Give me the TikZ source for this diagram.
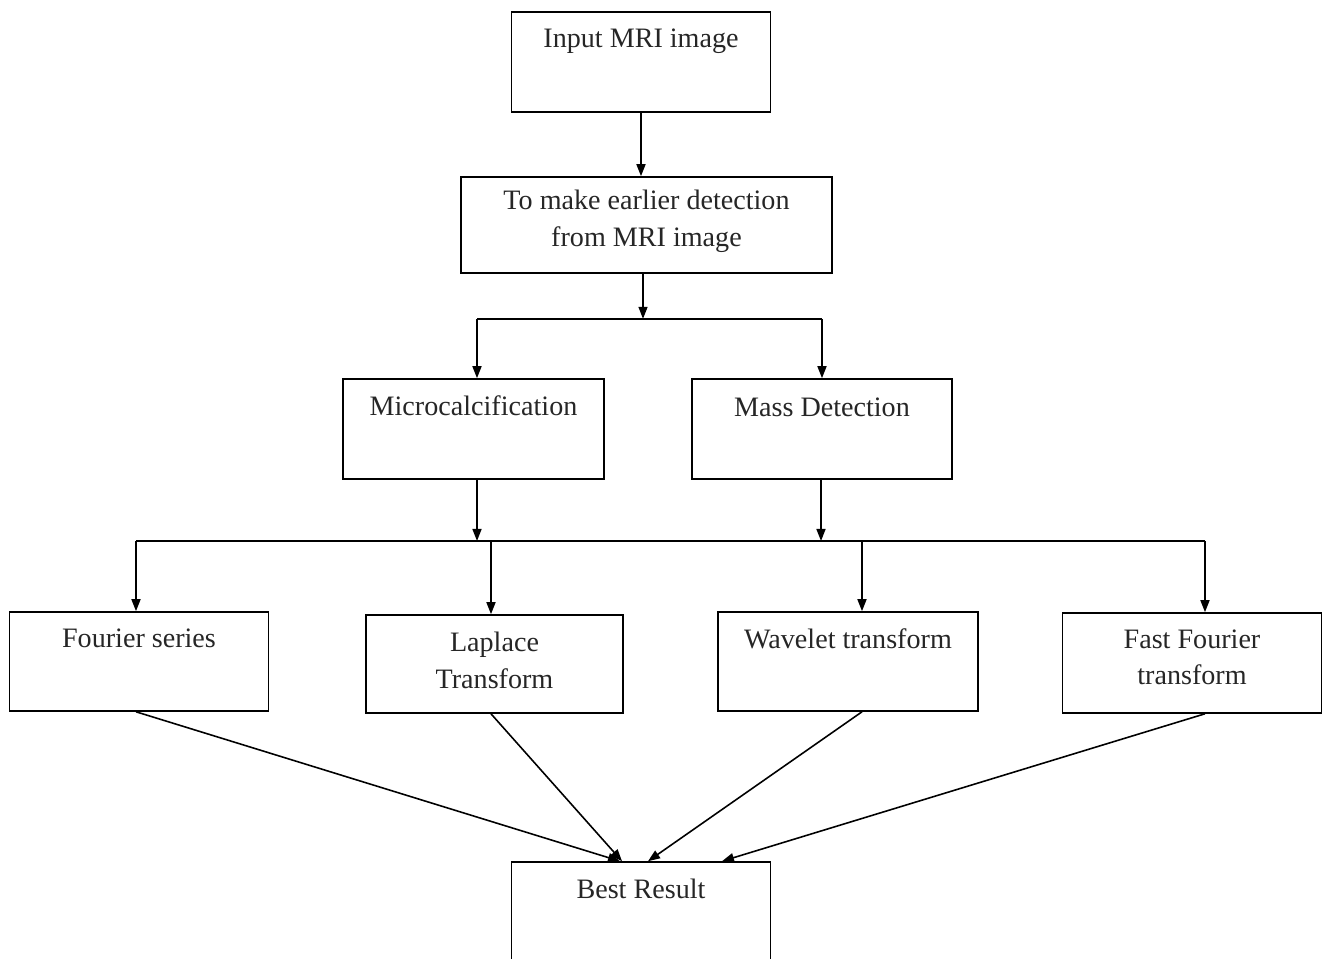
\documentclass[tikz,border=0pt]{standalone}
\usepackage{fontspec}
\setmainfont{Liberation Serif}
\usetikzlibrary{calc}
\usetikzlibrary{arrows.meta}
\tikzset{
  box/.style={draw,line width=0.9pt,minimum width=5.18cm,minimum height=2cm},
  txt/.style={font=\fontsize{16}{21}\selectfont,align=center,text=black!85},
  flow/.style={line width=0.9pt,-{Triangle[length=2.4mm,width=1.8mm]}},
  bus/.style={line width=0.9pt}
}

\begin{document}
\begin{tikzpicture}
  \useasboundingbox (0,0) rectangle (26.46,-19.18);

  % Input
  \node[box] (inp) at (12.82,-1.24) {};
  \node[txt,anchor=north] (inptxt) at ($(inp.north)+(0,-0.22)$) {Input MRI image};

  % Detection
  \node[box,minimum width=7.42cm,minimum height=1.92cm] (early) at (12.93,-4.5) {};
  \node[txt,anchor=north] (earlytxt) at ($(early.north)+(0,-0.16)$) {To make earlier detection\\from MRI image};

  % Two kinds of detection
  \node[box,minimum width=5.22cm] (micro) at (9.47,-8.58) {};
  \node[txt,anchor=north] (microtxt) at ($(micro.north)+(0,-0.22)$) {Microcalcification};
  \node[box,minimum width=5.2cm] (mass) at (16.44,-8.58) {};
  \node[txt,anchor=north] (masstxt) at ($(mass.north)+(0,-0.26)$) {Mass Detection};

  % Transforms
  \node[box,minimum height=1.98cm] (four) at (2.78,-13.23) {};
  \node[txt,anchor=north] (fourtxt) at ($(four.north)+(0,-0.22)$) {Fourier series};
  \node[box,minimum width=5.14cm,minimum height=1.96cm] (lapl) at (9.89,-13.28) {};
  \node[txt,anchor=north] (lapltxt) at ($(lapl.north)+(0,-0.24)$) {Laplace\\Transform};
  \node[box,minimum width=5.2cm,minimum height=1.98cm] (wave) at (16.96,-13.23) {};
  \node[txt,anchor=north] (wavetxt) at ($(wave.north)+(0,-0.22)$) {Wavelet transform};
  \node[box,minimum height=2cm] (fft) at (23.84,-13.26) {};
  \node[txt,anchor=north] (ffttxt) at ($(fft.north)+(0,-0.22)$) {Fast Fourier\\transform};

  % Result
  \node[box] (best) at (12.82,-18.24) {};
  \node[txt,anchor=north] (besttxt) at ($(best.north)+(0,-0.24)$) {Best Result};

  % Input to detection
  \draw[flow] (inp.south) -- (inp.south |- early.north);

  % First split
  \coordinate (e0) at ($(early.south)+(-0.07,0)$);
  \coordinate (s0) at ($(e0)+(0,-0.9)$);
  \coordinate (s1) at (9.54,-6.38);
  \coordinate (s2) at (16.44,-6.38);
  \draw[flow] (e0) -- (s0);
  \draw[bus] (s1) -- (s2);
  \draw[flow] (s1) -- (s1 |- micro.north);
  \draw[flow] (s2) -- (s2 |- mass.north);

  % Second split
  \coordinate (m1) at (9.54,-10.82);
  \coordinate (m2) at (16.42,-10.82);
  \coordinate (b1) at (2.72,-10.82);
  \coordinate (b2) at (9.82,-10.82);
  \coordinate (b3) at (17.24,-10.82);
  \coordinate (b4) at (24.1,-10.82);
  \draw[flow] (m1 |- micro.south) -- (m1);
  \draw[flow] (m2 |- mass.south) -- (m2);
  \draw[bus] (b1) -- (b4);
  \draw[flow] (b1) -- (b1 |- four.north);
  \draw[flow] (b2) -- (b2 |- lapl.north);
  \draw[flow] (b3) -- (b3 |- wave.north);
  \draw[flow] (b4) -- (b4 |- fft.north);

  % Into the result
  \coordinate (t1) at ($(best.north)+(-0.42,0)$);
  \coordinate (t2) at ($(best.north)+(-0.38,0)$);
  \coordinate (t3) at ($(best.north)+(0.14,0)$);
  \coordinate (t4) at ($(best.north)+(1.62,0)$);
  \draw[flow] (b1 |- four.south) -- (t1);
  \draw[flow] (b2 |- lapl.south) -- (t2);
  \draw[flow] (b3 |- wave.south) -- (t3);
  \draw[flow] (b4 |- fft.south) -- (t4);

\end{tikzpicture}
\end{document}
